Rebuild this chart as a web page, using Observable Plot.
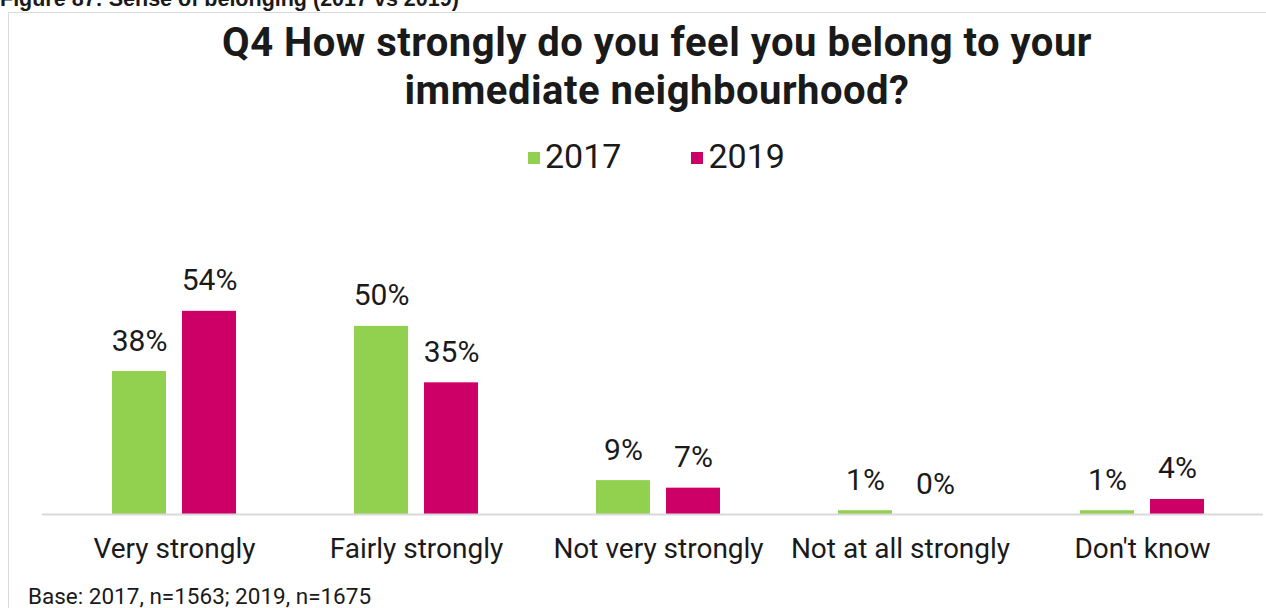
<!DOCTYPE html>
<html>
<head>
<meta charset="utf-8">
<script src="https://cdn.jsdelivr.net/npm/d3@7"></script>
<script src="https://cdn.jsdelivr.net/npm/@observablehq/plot@0.6"></script>
<style>
  html, body { margin: 0; padding: 0; background: #fff; }
  #page { position: relative; width: 1266px; height: 608px; overflow: hidden; font-family: Roboto, sans-serif; color: #1a1a1a; }
  #fig { position: absolute; left: 0; top: -12px; font-family: "Liberation Sans", Arial, sans-serif; font-weight: bold; font-size: 21.5px; line-height: 22px; white-space: nowrap; }
  #box { position: absolute; left: 8px; top: 12px; width: 1300px; height: 700px; border: 1px solid #d9d9d9; box-sizing: border-box; }
  #title { position: absolute; left: 0; width: 1314px; top: 19px; text-align: center; font-weight: bold; font-size: 40px; letter-spacing: 0.5px; line-height: 48px; }
  #legend { position: absolute; left: 528px; top: 137px; font-size: 34px; line-height: 38px; white-space: nowrap; }
  #legend span.sw { display: inline-block; width: 12px; height: 12px; margin-right: 5px; vertical-align: 4px; }
  #legend span.item { margin-right: 70px; }
  #chart { position: absolute; left: 0; top: 200px; }
  #caption { position: absolute; left: 28px; top: 584px; font-size: 22.5px; line-height: 24px; white-space: nowrap; }
</style>
</head>
<body>
<div id="page">
  <div id="fig">Figure 87: Sense of belonging (2017 vs 2019)</div>
  <div id="box"></div>
  <div id="title">Q4 How strongly do you feel you belong to your<br>immediate neighbourhood?</div>
  <div id="legend"></div>
  <div id="chart"></div>
  <div id="caption">Base: 2017, n=1563; 2019, n=1675</div>
</div>
<script>
const categories = ["Very strongly", "Fairly strongly", "Not very strongly", "Not at all strongly", "Don't know"];
const years = ["2017", "2019"];
const values2017 = [38, 50, 9, 1, 1];
const values2019 = [54, 35, 7, 0, 4];
const colors = ["#92d050", "#cc0066"];

const data = categories.flatMap((c, i) => [
  {category: c, year: years[0], value: values2017[i]},
  {category: c, year: years[1], value: values2019[i]}
]);
const d17 = data.filter(d => d.year === years[0]);
const d19 = data.filter(d => d.year === years[1]);

const legend = document.getElementById("legend");
years.forEach((y, i) => {
  const s = document.createElement("span");
  s.className = "item";
  s.innerHTML = `<span class="sw" style="background:${colors[i]}"></span>${y}`;
  legend.appendChild(s);
});

const plot = Plot.plot({
  width: 1266,
  height: 370,
  marginLeft: 53,
  marginRight: 3,
  marginTop: 13,
  marginBottom: 56,
  style: {fontFamily: "Roboto, sans-serif", color: "#1a1a1a", background: "transparent"},
  x: {domain: categories, padding: 0, label: null, tickSize: 0, tickPadding: 24},
  y: {domain: [0, 80], axis: null},
  marks: [
    Plot.barY(d17, {x: "category", y: "value", fill: colors[0], insetLeft: 59, insetRight: 129}),
    Plot.barY(d19, {x: "category", y: "value", fill: colors[1], insetLeft: 129, insetRight: 59}),
    Plot.ruleY([0], {stroke: "#d9d9d9", strokeWidth: 2, insetLeft: -11}),
    Plot.text(d17, {x: "category", y: "value", text: d => d.value + "%", dx: -35, dy: -21, lineAnchor: "bottom", fontSize: 30, fill: "#1a1a1a"}),
    Plot.text(d19, {x: "category", y: "value", text: d => d.value + "%", dx: 35, dy: -21, lineAnchor: "bottom", fontSize: 30, fill: "#1a1a1a"})
  ]
});
plot.querySelectorAll('g[aria-label="x-axis tick label"]').forEach(el => { el.style.fontSize = "28px"; });
document.getElementById("chart").appendChild(plot);
</script>
</body>
</html>
